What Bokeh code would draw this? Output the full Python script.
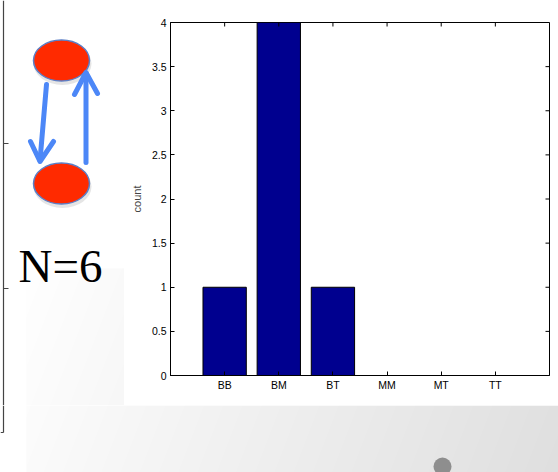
import numpy as np
from bokeh.plotting import figure
from bokeh.models import Range1d, FactorRange, LinearAxis, CategoricalAxis, FixedTicker
from bokeh.layouts import row, column
from bokeh.core.properties import value
from bokeh.embed import file_html
from bokeh.resources import INLINE

# ---------------- data ----------------
categories = ["BB", "BM", "BT", "MM", "MT", "TT"]
counts = [1, 4, 1, 0, 0, 0]
y_ticks = [0, 0.5, 1, 1.5, 2, 2.5, 3, 3.5, 4]
y_tick_labels = ["0", "0.5", "1", "1.5", "2", "2.5", "3", "3.5", "4"]
y_label = "count"
annotation_text = "N=6"

FONT = "Liberation Sans"
BAR_COLOR = "#00008F"
ARROW_COLOR = "#4C87F7"

# chart frame geometry (pixels)
FRAME_W, FRAME_H = 379, 353
TICK_PX = 4


def gradient(x0, x1, y0, y1):
    xs = np.arange(x0, x1) + 0.5
    ys = np.arange(y0, y1) + 0.5
    X, Y = np.meshgrid(xs, ys)
    g = 255 - 0.052 * (X - 26) - 0.02 * (Y - 268)
    g = np.clip(g, 0, 255).astype(np.uint32)
    img = (255 << 24) | (g << 16) | (g << 8) | g
    return img.astype(np.uint32)


def blank(fig):
    fig.grid.visible = False
    fig.outline_line_color = None
    fig.background_fill_color = "white"
    fig.border_fill_color = "white"


# ---------------- left diagram ----------------
lp = figure(width=124, height=405, x_range=Range1d(0, 124), y_range=Range1d(405, 0),
            x_axis_location=None, y_axis_location=None, min_border=0,
            output_backend="svg", toolbar_location=None)
lp.frame_align = False
blank(lp)
lp.image_rgba(image=[gradient(26, 124, 268, 405)], x=26, y=268, dw=98, dh=137)
# partial frame of a neighbouring panel
lp.segment(x0=[3, 3, 3], y0=[0, 143, 288], x1=[3, 8, 8], y1=[405, 143, 288],
           line_color="#444444", line_width=1.2)
# node shadows and nodes
lp.ellipse(x=[62, 62], y=[63, 186], width=58, height=43,
           fill_color="#888888", fill_alpha=0.22, line_color=None)
lp.ellipse(x=[61, 61], y=[60, 183], width=56, height=41,
           fill_color="#FF2A00", line_color="#5B7FC7", line_width=1.5)
# arrows
lp.segment(x0=[46, 85.5], y0=[84, 162], x1=[39.5, 85.5], y1=[160, 73],
           line_color=ARROW_COLOR, line_width=5, line_cap="round")
lp.multi_line(xs=[[30, 39.5, 53], [74, 85.5, 97]], ys=[[141, 161, 141], [94, 72, 93]],
              line_color=ARROW_COLOR, line_width=5, line_cap="round", line_join="round")
lp.text(x=[18], y=[265], text=[annotation_text], text_align="left",
        text_baseline="alphabetic", text_font=value("Liberation Serif"),
        text_font_size="47px", text_color="black")

# ---------------- bar chart ----------------
p = figure(width=434, height=405,
           x_range=FactorRange(*categories, range_padding=1 / 6, range_padding_units="percent"),
           y_range=Range1d(0, 4),
           x_axis_location=None, y_axis_location=None,
           min_border_left=46, min_border_right=9, min_border_top=22, min_border_bottom=30,
           output_backend="svg", toolbar_location=None)
p.frame_align = False
p.grid.visible = False
p.background_fill_color = "white"
p.border_fill_color = "white"
p.outline_line_color = "black"
p.outline_line_width = 1

p.vbar(x=categories, top=counts, width=0.8, fill_color=BAR_COLOR,
       line_color="black", line_width=1)

# inward ticks on the top and right edges of the box
n = len(categories)
x_end = n + 0.5
y_top = y_ticks[-1]
dy = TICK_PX * (y_top - y_ticks[0]) / FRAME_H
dx = TICK_PX * (n + 1) / FRAME_W
p.segment(x0=categories, y0=[y_top] * n, x1=categories, y1=[y_top - dy] * n,
          line_color="black", line_width=1)
p.segment(x0=[x_end] * len(y_ticks), y0=y_ticks, x1=[x_end - dx] * len(y_ticks), y1=y_ticks,
          line_color="black", line_width=1)


def style_axis(ax):
    ax.axis_line_color = "black"
    ax.major_tick_line_color = "black"
    ax.major_tick_in = TICK_PX
    ax.major_tick_out = 0
    ax.minor_tick_line_color = None
    ax.major_label_text_font = FONT
    ax.major_label_text_color = "black"
    ax.major_label_text_font_size = "10.5px"


yaxis = LinearAxis(ticker=FixedTicker(ticks=y_ticks),
                   major_label_overrides=dict(zip(y_ticks, y_tick_labels)),
                   axis_label=y_label)
style_axis(yaxis)
yaxis.major_label_standoff = 4
yaxis.axis_label_text_font = FONT
yaxis.axis_label_text_font_size = "11px"
yaxis.axis_label_text_font_style = "normal"
yaxis.axis_label_standoff = 6
p.add_layout(yaxis, "left")

xaxis = CategoricalAxis()
style_axis(xaxis)
xaxis.major_label_standoff = 3
p.add_layout(xaxis, "below")

# ---------------- bottom strip ----------------
bp = figure(width=558, height=67, x_range=Range1d(0, 558), y_range=Range1d(472, 405),
            x_axis_location=None, y_axis_location=None, min_border=0,
            output_backend="svg", toolbar_location=None)
bp.frame_align = False
blank(bp)
bp.image_rgba(image=[gradient(26, 558, 405, 472)], x=26, y=405, dw=532, dh=67)
bp.segment(x0=[3, 0], y0=[405, 432], x1=[3, 3], y1=[432, 432],
           line_color="#444444", line_width=1.2)
bp.circle(x=[442], y=[466], radius=9, fill_color="#8E8E8E", line_color=None)

layout = column(row(lp, p, spacing=0), bp, spacing=0)

with open("out.html", "w") as f:
    f.write(file_html(layout, INLINE))
